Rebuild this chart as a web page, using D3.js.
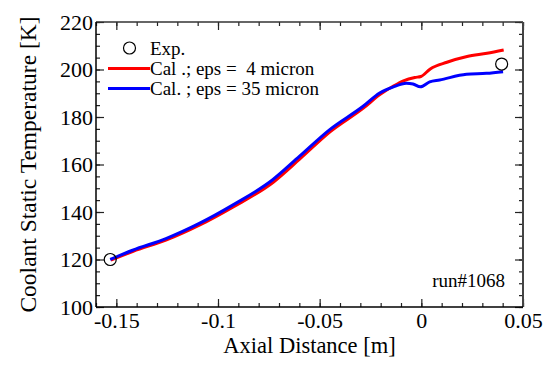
<!DOCTYPE html>
<html>
<head>
<meta charset="utf-8">
<script src="https://cdn.jsdelivr.net/npm/d3@7"></script>
<style>
  body { margin: 0; background: #fff; }
  svg text { font-family: "Liberation Serif", "Times New Roman", Times, "DejaVu Serif", serif !important; fill: #000; }
</style>
</head>
<body>
<div id="plot"></div>
<script>
let svgWidth = 551;
let svgHeight = 365;
let margin = { top: 22, right: 28, bottom: 58, left: 96 };
let w = svgWidth - margin.left - margin.right;
let h = svgHeight - margin.top - margin.bottom;

// experiment points
let expX = [-0.153, 0.0395];
let expT = [120, 202.3];

// calculation, eps = 4 micron
let redX = [-0.153, -0.142, -0.1256, -0.1092, -0.0928, -0.0731, -0.060, -0.0452, -0.0288, -0.0205, -0.014, -0.0091, -0.0035, -0.0005, 0.0041, 0.0123, 0.0222, 0.032, 0.0402];
let redT = [120, 123.7, 128.5, 134.8, 142.4, 152.8, 162.6, 174.0, 184.0, 189.8, 193.3, 195.5, 196.9, 197.3, 200.5, 203.3, 205.7, 207.1, 208.5];

// calculation, eps = 35 micron
let blueX = [-0.153, -0.142, -0.1256, -0.1092, -0.0928, -0.0731, -0.060, -0.0452, -0.0288, -0.0205, -0.014, -0.0074, -0.0041, -0.0005, 0.0041, 0.009, 0.0222, 0.032, 0.0402];
let blueT = [120, 123.9, 128.8, 135.2, 142.9, 153.6, 163.4, 174.6, 184.4, 190.1, 192.6, 194.2, 193.9, 192.7, 194.8, 195.6, 198.0, 198.4, 199.1];

let xMajor = [-0.15, -0.1, -0.05, 0, 0.05];
let yMajor = [100, 120, 140, 160, 180, 200, 220];

let legendLabels = ['Exp.', 'Cal .; eps =  4 micron', 'Cal. ; eps = 35 micron'];

let svg = d3.select('#plot')
    .append('svg')
    .attr('width', svgWidth)
    .attr('height', svgHeight);

let chart = svg.append('g')
    .attr('transform', `translate(${margin.left},${margin.top})`);

let x = d3.scaleLinear().domain([-0.16, 0.05]).range([0, w]);
let y = d3.scaleLinear().domain([100, 220]).range([h, 0]);

let xMinor = d3.range(-16, 6).map(d => d / 100);
let yMinor = d3.range(100, 221, 5);
let fmt = d => String(+d.toFixed(2));

// minor ticks
chart.append('g').attr('transform', `translate(0,${h})`)
    .call(d3.axisBottom(x).tickValues(xMinor).tickSize(-4).tickFormat(''));
chart.append('g')
    .call(d3.axisTop(x).tickValues(xMinor).tickSize(-4).tickFormat(''));
chart.append('g')
    .call(d3.axisLeft(y).tickValues(yMinor).tickSize(-4).tickFormat(''));
chart.append('g').attr('transform', `translate(${w},0)`)
    .call(d3.axisRight(y).tickValues(yMinor).tickSize(-4).tickFormat(''));

// major ticks
let xAxis = chart.append('g').attr('transform', `translate(0,${h})`)
    .call(d3.axisBottom(x).tickValues(xMajor).tickSize(-8).tickPadding(5).tickFormat(fmt));
chart.append('g')
    .call(d3.axisTop(x).tickValues(xMajor).tickSize(-8).tickFormat(''));
let yAxis = chart.append('g')
    .call(d3.axisLeft(y).tickValues(yMajor).tickSize(-8).tickPadding(3).tickFormat(fmt));
chart.append('g').attr('transform', `translate(${w},0)`)
    .call(d3.axisRight(y).tickValues(yMajor).tickSize(-8).tickFormat(''));

chart.selectAll('.domain').remove();
chart.selectAll('g').attr('font-family', null);
chart.selectAll('.tick line').attr('stroke', '#222').attr('stroke-width', 1.2);
xAxis.selectAll('text').style('font-size', '22px');
yAxis.selectAll('text').style('font-size', '22px');

// frame
chart.append('line').attr('x1', 0).attr('x2', w).attr('y1', 0).attr('y2', 0)
    .attr('stroke', '#333').attr('stroke-width', 1.5);
chart.append('line').attr('x1', w).attr('x2', w).attr('y1', 0).attr('y2', h)
    .attr('stroke', '#444').attr('stroke-width', 2);
chart.append('line').attr('x1', 0).attr('x2', 0).attr('y1', 0).attr('y2', h)
    .attr('stroke', '#000').attr('stroke-width', 1.5);
chart.append('line').attr('x1', 0).attr('x2', w).attr('y1', h).attr('y2', h)
    .attr('stroke', '#000').attr('stroke-width', 1.5);

// curves
let line = d3.line().x(d => x(d[0])).y(d => y(d[1])).curve(d3.curveMonotoneX);
let redPts = redX.map((v, i) => [v, redT[i]]);
let bluePts = blueX.map((v, i) => [v, blueT[i]]);

chart.append('path').datum(redPts)
    .attr('d', line).attr('fill', 'none').attr('stroke', '#ff0000').attr('stroke-width', 3)
    .attr('transform', 'translate(0.6,0.6)');
chart.append('path').datum(bluePts)
    .attr('d', line).attr('fill', 'none').attr('stroke', '#0000ff').attr('stroke-width', 3);

chart.selectAll('circle.exp')
    .data(expX.map((v, i) => [v, expT[i]]))
    .join('circle')
    .attr('class', 'exp')
    .attr('cx', d => x(d[0]))
    .attr('cy', d => y(d[1]))
    .attr('r', 6)
    .attr('fill', 'none')
    .attr('stroke', '#000')
    .attr('stroke-width', 1.2);

// legend
let lg = svg.append('g');
lg.append('circle').attr('cx', 129.5).attr('cy', 48).attr('r', 6)
    .attr('fill', 'none').attr('stroke', '#000').attr('stroke-width', 1.2);
lg.append('line').attr('x1', 108).attr('x2', 150).attr('y1', 68.5).attr('y2', 68.5)
    .attr('stroke', '#ff0000').attr('stroke-width', 3);
lg.append('line').attr('x1', 108).attr('x2', 150).attr('y1', 88.5).attr('y2', 88.5)
    .attr('stroke', '#0000ff').attr('stroke-width', 3);
lg.selectAll('text')
    .data(legendLabels)
    .join('text')
    .attr('x', 150)
    .attr('y', (d, i) => 55 + i * 20)
    .style('font-size', '19px')
    .style('white-space', 'pre')
    .text(d => d);

// run label
svg.append('text')
    .attr('x', 505).attr('y', 287)
    .attr('text-anchor', 'end')
    .style('font-size', '19px')
    .text('run#1068');

// axis titles
svg.append('text')
    .attr('x', margin.left + w / 2).attr('y', 353)
    .attr('text-anchor', 'middle')
    .style('font-size', '22.5px')
    .text('Axial Distance [m]');

svg.append('text')
    .attr('transform', `translate(36,${margin.top + h / 2}) rotate(-90)`)
    .attr('text-anchor', 'middle')
    .style('font-size', '23.5px')
    .text('Coolant Static Temperature [K]');
</script>
</body>
</html>
